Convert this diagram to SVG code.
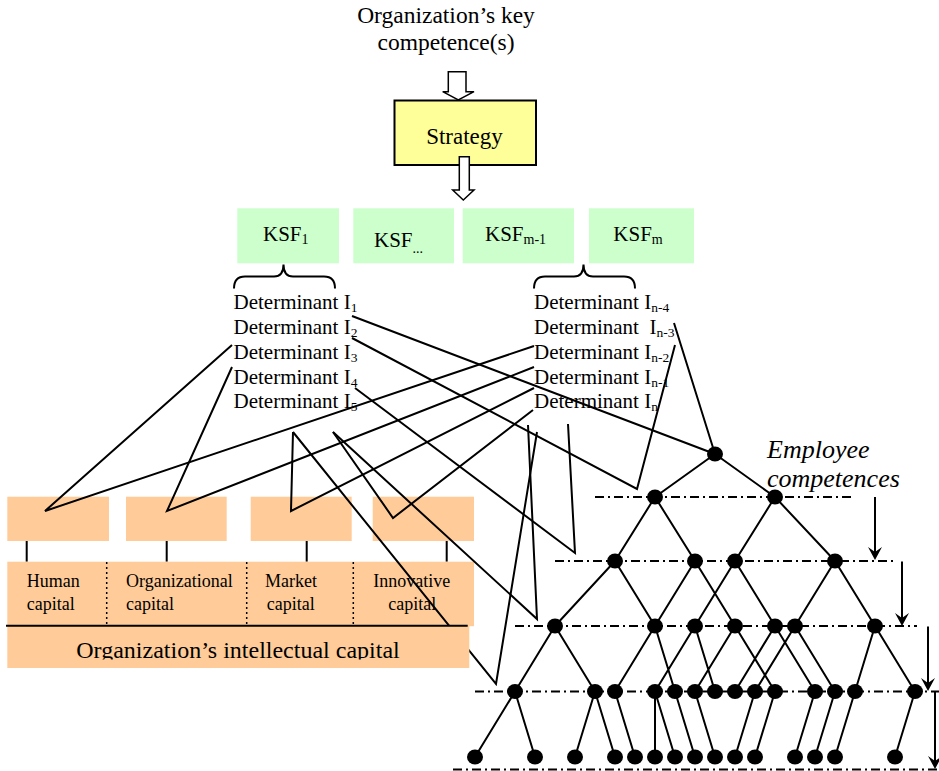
<svg xmlns="http://www.w3.org/2000/svg" width="939" height="771" viewBox="0 0 939 771">
<style>
.t{font-family:"Liberation Serif","Times New Roman",serif;fill:#000}
.ln{stroke:#000;stroke-width:2;fill:none;stroke-linejoin:miter}
.ed{stroke:#000;stroke-width:2;fill:none}
.dd{stroke:#000;stroke-width:2;stroke-dasharray:9 4 2 4;fill:none}
.nd{fill:#000}
.ksf{fill:#CCFFCC}
.cap{fill:#FFCC99}
.hollow{fill:#fff;stroke:#000;stroke-width:1.5}
.det{font-size:21px}
.sub{font-size:13.5px}
.cl{font-size:18px}
</style>
<defs>
<path id="head" d="M0,0 L-7,-13 L0,-8 L7,-13 Z" fill="#000"/>
<clipPath id="icclip"><rect x="0" y="600" width="480" height="59.5"/></clipPath>
</defs>
<rect x="0" y="0" width="939" height="771" fill="#fff"/>

<g id="title">
<text class="t" x="446" y="23" font-size="23.5" text-anchor="middle">Organization’s key</text>
<text class="t" x="446" y="50" font-size="23.5" text-anchor="middle">competence(s)</text>
</g>

<g id="arrow-in">
<path class="hollow" d="M448.3,71.7 H466 V91.7 H474 L458.3,100 L442.7,91.7 H448.3 Z"/>
</g>

<g id="strategy">
<rect x="394.5" y="100.5" width="141.5" height="64.5" fill="#FFFF99" stroke="#000" stroke-width="2"/>
<text class="t" x="464.5" y="143.5" font-size="23" text-anchor="middle">Strategy</text>
</g>

<g id="arrow-out">
<path class="hollow" d="M459.3,156.7 H469.3 V190 H474 L463.3,200 L452.7,190 H459.3 Z"/>
</g>

<g id="ksf1">
<rect class="ksf" x="237.3" y="208.3" width="101.7" height="55"/>
<text class="t" x="263" y="240.7" font-size="21">KSF<tspan font-size="14" dy="3">1</tspan></text>
</g>
<g id="ksf-dots">
<rect class="ksf" x="353.3" y="208.3" width="100.7" height="55"/>
<text class="t" x="374" y="246.7" font-size="21">KSF<tspan font-size="14" dy="6">...</tspan></text>
</g>
<g id="ksf-m-1">
<rect class="ksf" x="462.7" y="208.3" width="111.3" height="55"/>
<text class="t" x="485" y="240.7" font-size="21">KSF<tspan font-size="14" dy="3">m-1</tspan></text>
</g>
<g id="ksf-m">
<rect class="ksf" x="589" y="208.3" width="105" height="55"/>
<text class="t" x="613.3" y="240.7" font-size="21">KSF<tspan font-size="14" dy="3">m</tspan></text>
</g>

<g id="brace-left">
<path class="ln" d="M234,288.5 Q234,276.5 245,276.5 H274 Q283.5,276.5 283.5,264.5 Q283.5,276.5 293,276.5 H324 Q335,276.5 335,288.5"/>
</g>
<g id="brace-right">
<path class="ln" d="M534,288.5 Q534,276.5 545,276.5 H574 Q583.5,276.5 583.5,264.5 Q583.5,276.5 593,276.5 H624 Q635,276.5 635,288.5"/>
</g>

<g id="determinants-left">
<text class="t det" x="233.5" y="309">Determinant I<tspan class="sub" dy="3">1</tspan></text>
<text class="t det" x="233.5" y="334">Determinant I<tspan class="sub" dy="3">2</tspan></text>
<text class="t det" x="233.5" y="359">Determinant I<tspan class="sub" dy="3">3</tspan></text>
<text class="t det" x="233.5" y="384">Determinant I<tspan class="sub" dy="3">4</tspan></text>
<text class="t det" x="233.5" y="408">Determinant I<tspan class="sub" dy="3">5</tspan></text>
</g>
<g id="determinants-right">
<text class="t det" x="534" y="309">Determinant I<tspan class="sub" dy="3">n-4</tspan></text>
<text class="t det" x="534" y="334">Determinant&#160; I<tspan class="sub" dy="3">n-3</tspan></text>
<text class="t det" x="534" y="359">Determinant I<tspan class="sub" dy="3">n-2</tspan></text>
<text class="t det" x="534" y="384">Determinant I<tspan class="sub" dy="3">n-1</tspan></text>
<text class="t det" x="534" y="408">Determinant I<tspan class="sub" dy="3">n</tspan></text>
</g>

<g id="capital-boxes">
<rect class="cap" x="7.3" y="496.7" width="101.7" height="44.3"/>
<rect class="cap" x="126" y="496.7" width="100.7" height="44.3"/>
<rect class="cap" x="250.7" y="496.7" width="101" height="44.3"/>
<rect class="cap" x="372.7" y="496.7" width="101.3" height="44.3"/>
<path class="ed" d="M26.7,541 V561.7 M166.7,541 V561.7 M306.7,541 V561.7 M446.7,541 V561.7"/>
</g>

<g id="capital-row">
<rect class="cap" x="7.3" y="561.7" width="466.7" height="64.5"/>
<path d="M106.7,562 V625 M246.7,562 V625 M353.3,562 V625" stroke="#000" stroke-width="1.5" stroke-dasharray="2 3" fill="none"/>
<text class="t cl" x="26.7" y="587.3">Human</text>
<text class="t cl" x="26.7" y="610">capital</text>
<text class="t cl" x="126" y="587.3">Organizational</text>
<text class="t cl" x="126" y="610">capital</text>
<text class="t cl" x="265" y="587.3">Market</text>
<text class="t cl" x="266.7" y="610">capital</text>
<text class="t cl" x="373.3" y="587.3">Innovative</text>
<text class="t cl" x="388.3" y="610">capital</text>
</g>

<g id="connectors">
<path class="ln" d="M232,345 L45,511 L534,346"/>
<path class="ln" d="M232,367 L167,511 L534,367"/>
<path class="ln" d="M293,432 L291,511 L534,388"/>
<path class="ln" d="M333,432 L393,518 L533,410"/>
<path class="ln" d="M293,432 L496,684 L537,432"/>
<path class="ln" d="M333,432 L537,619 L528,425"/>
<path class="ln" d="M355,388 L575,553 L568,424"/>
<path class="ln" d="M352,338 L637,489 L675,345"/>
<path class="ln" d="M352,316 L715,454 L674,323"/>
</g>

<g id="intellectual-capital">
<rect class="cap" x="7.3" y="626" width="462" height="42"/>
<line x1="6" y1="625.7" x2="467.7" y2="625.7" stroke="#000" stroke-width="2"/>
<text class="t" x="238" y="657.5" font-size="24" text-anchor="middle" clip-path="url(#icclip)">Organization’s intellectual capital</text>
</g>

<g id="levels">
<path class="dd" d="M595,497 H853"/>
<path class="dd" d="M555,561 H893"/>
<path class="dd" d="M515,626 H917"/>
<path class="dd" d="M475,691.5 H939"/>
<path class="dd" d="M453,769.5 H939" stroke="#555"/>
</g>

<g id="tree-edges">
<path class="ed" d="M715,454L655,497 M715,454L775,497
M655,497L615,561 M655,497L695,561 M775,497L735,561 M775,497L835,561
M615,561L555,626 M615,561L655,626 M695,561L655,626 M695,561L735,626 M735,561L695,626 M735,561L775,626 M835,561L795,626 M835,561L875,626
M555,626L515,691.5 M555,626L595,691.5 M655,626L615,691.5 M655,626L675,691.5 M695,626L655,691.5 M695,626L715,691.5 M735,626L695,691.5 M735,626L775,691.5 M775,626L735,691.5 M775,626L815,691.5 M795,626L755,691.5 M795,626L835,691.5 M875,626L855,691.5 M875,626L915,691.5
M515,691.5L475,757 M515,691.5L535,757 M595,691.5L575,757 M595,691.5L615,757 M615,691.5L635,757 M655,691.5L655,757 M655,691.5L675,757 M675,691.5L695,757 M695,691.5L715,757 M755,691.5L735,757 M775,691.5L755,757 M815,691.5L795,757 M835,691.5L815,757 M855,691.5L835,757 M915,691.5L895,757"/>
</g>

<g id="tree-nodes" class="nd">
<ellipse cx="715" cy="454" rx="8" ry="7.5"/>
<ellipse cx="655" cy="497" rx="8" ry="7.5"/>
<ellipse cx="775" cy="497" rx="8" ry="7.5"/>
<ellipse cx="615" cy="561" rx="8" ry="7.5"/>
<ellipse cx="695" cy="561" rx="8" ry="7.5"/>
<ellipse cx="735" cy="561" rx="8" ry="7.5"/>
<ellipse cx="835" cy="561" rx="8" ry="7.5"/>
<ellipse cx="555" cy="626" rx="8" ry="7.5"/>
<ellipse cx="655" cy="626" rx="8" ry="7.5"/>
<ellipse cx="695" cy="626" rx="8" ry="7.5"/>
<ellipse cx="735" cy="626" rx="8" ry="7.5"/>
<ellipse cx="775" cy="626" rx="8" ry="7.5"/>
<ellipse cx="795" cy="626" rx="8" ry="7.5"/>
<ellipse cx="875" cy="626" rx="8" ry="7.5"/>
<ellipse cx="515" cy="691.5" rx="8" ry="7.5"/>
<ellipse cx="595" cy="691.5" rx="8" ry="7.5"/>
<ellipse cx="615" cy="691.5" rx="8" ry="7.5"/>
<ellipse cx="655" cy="691.5" rx="8" ry="7.5"/>
<ellipse cx="675" cy="691.5" rx="8" ry="7.5"/>
<ellipse cx="695" cy="691.5" rx="8" ry="7.5"/>
<ellipse cx="715" cy="691.5" rx="8" ry="7.5"/>
<ellipse cx="735" cy="691.5" rx="8" ry="7.5"/>
<ellipse cx="755" cy="691.5" rx="8" ry="7.5"/>
<ellipse cx="775" cy="691.5" rx="8" ry="7.5"/>
<ellipse cx="815" cy="691.5" rx="8" ry="7.5"/>
<ellipse cx="835" cy="691.5" rx="8" ry="7.5"/>
<ellipse cx="855" cy="691.5" rx="8" ry="7.5"/>
<ellipse cx="915" cy="691.5" rx="8" ry="7.5"/>
<ellipse cx="475" cy="757" rx="8" ry="7.5"/>
<ellipse cx="535" cy="757" rx="8" ry="7.5"/>
<ellipse cx="575" cy="757" rx="8" ry="7.5"/>
<ellipse cx="615" cy="757" rx="8" ry="7.5"/>
<ellipse cx="635" cy="757" rx="8" ry="7.5"/>
<ellipse cx="655" cy="757" rx="8" ry="7.5"/>
<ellipse cx="675" cy="757" rx="8" ry="7.5"/>
<ellipse cx="695" cy="757" rx="8" ry="7.5"/>
<ellipse cx="715" cy="757" rx="8" ry="7.5"/>
<ellipse cx="735" cy="757" rx="8" ry="7.5"/>
<ellipse cx="755" cy="757" rx="8" ry="7.5"/>
<ellipse cx="795" cy="757" rx="8" ry="7.5"/>
<ellipse cx="815" cy="757" rx="8" ry="7.5"/>
<ellipse cx="835" cy="757" rx="8" ry="7.5"/>
<ellipse cx="895" cy="757" rx="8" ry="7.5"/>
</g>

<g id="level-arrows">
<path class="ed" d="M875,497 V554 M902,561.5 V620 M928,626.5 V685 M935,691.5 V763"/>
<use href="#head" x="875" y="560"/>
<use href="#head" x="902" y="626"/>
<use href="#head" x="928" y="691"/>
<use href="#head" x="935" y="769"/>
</g>

<g id="employee-label">
<text class="t" x="767" y="458" font-size="26" font-style="italic">Employee</text>
<text class="t" x="767" y="487" font-size="26" font-style="italic">competences</text>
</g>
</svg>
